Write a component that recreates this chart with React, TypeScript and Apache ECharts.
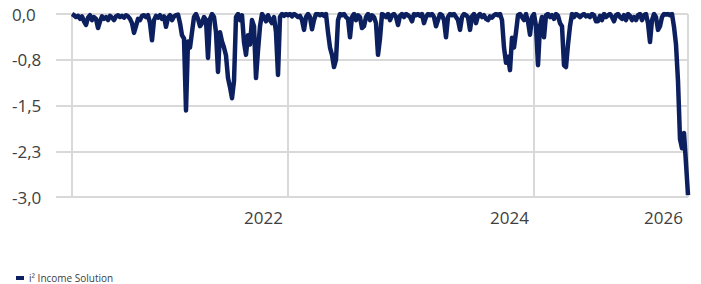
import React, { useEffect, useRef } from "react";
import * as echarts from "echarts";

// Drawdown series (one value per step, left to right)
const drawdown: number[] = [
  0, -0.02, -0.05, -0.03, -0.08, -0.04, -0.12, -0.18, -0.06, -0.02,
  -0.1, -0.05, -0.08, -0.23, -0.12, -0.04, -0.08, -0.05, -0.1, -0.03,
  -0.06, -0.1, -0.04, -0.02, -0.05, -0.03, -0.06, -0.02, -0.04, -0.08,
  -0.15, -0.31, -0.2, -0.08, -0.1, -0.03, -0.02, -0.05, -0.02, -0.15,
  -0.43, -0.1, -0.03, -0.06, -0.02, -0.08, -0.04, -0.21, -0.06, -0.02,
  -0.1, -0.04, -0.02, -0.01, -0.15, -0.35, -0.4, -1.58, -0.45, -0.55,
  -0.3, -0.05, 0, -0.08, -0.2, -0.15, -0.05, -0.1, -0.72, -0.08,
  0, -0.05, -0.3, -0.95, -0.3, -0.45, -0.55, -0.68, -1.05, -1.2,
  -1.38, -1.1, -0.05, 0, -0.1, -0.02, -0.46, -0.67, -0.35, -0.5,
  -0.1, -0.2, -1.05, -0.6, -0.2, 0, -0.05, -0.12, -0.02, -0.1,
  -0.15, -0.05, -0.3, -1.0, -0.05, 0, -0.03, 0, -0.02, 0,
  -0.04, 0, -0.02, -0.05, -0.03, -0.1, -0.26, -0.05, 0, -0.05,
  -0.25, -0.1, 0, 0, -0.02, 0, -0.03, 0, -0.3, -0.55,
  -0.67, -0.87, -0.75, -0.1, 0, -0.02, 0, -0.05, -0.08, -0.38,
  -0.05, 0, -0.1, -0.02, -0.05, -0.23, -0.2, -0.05, 0, -0.1,
  -0.02, -0.05, -0.15, -0.67, -0.4, 0, -0.02, -0.05, 0, -0.1,
  -0.02, 0, -0.05, -0.18, -0.03, 0, -0.05, 0, -0.02, -0.05,
  -0.12, 0, -0.02, 0, -0.03, 0, -0.15, -0.05, 0, -0.02,
  0, -0.05, -0.2, -0.1, 0, -0.02, -0.1, -0.38, -0.05, 0,
  -0.02, 0, -0.05, -0.1, -0.26, -0.05, 0, -0.02, -0.05, -0.26,
  -0.04, 0, -0.15, -0.03, 0, -0.05, -0.02, -0.08, -0.1, -0.04,
  -0.06, -0.02, 0, -0.02, 0, -0.1, -0.55, -0.8, -0.7, -0.92,
  -0.39, -0.55, -0.3, -0.02, 0, -0.05, -0.1, 0, -0.12, -0.34,
  -0.05, 0, -0.2, -0.84, -0.2, -0.05, -0.38, -0.02, 0, -0.05,
  -0.02, -0.08, 0, -0.03, -0.15, -0.2, -0.84, -0.87, -0.5, -0.2,
  0, -0.05, 0, -0.02, -0.05, -0.02, 0, -0.04, -0.02, -0.05,
  0, -0.02, -0.12, -0.12, -0.03, -0.1, 0, -0.05, -0.02, 0,
  -0.05, -0.12, -0.02, 0, -0.05, -0.08, -0.02, -0.1, 0, -0.03,
  -0.1, -0.05, -0.1, -0.02, 0, -0.1, -0.02, 0, -0.15, -0.46,
  -0.1, 0, -0.05, -0.26, -0.2, -0.05, 0, -0.01, 0, -0.02,
  0, -0.21, -0.5, -1.1, -2.05, -2.2, -1.95, -2.45, -2.97,
];

// Axis tick labels and the step (data index) at which each sits
const xTickLabels: string[] = ["", "2022", "2024", "2026"];
const xTickSteps: number[] = [0, 108, 231, 308];

const seriesName = "i² Income Solution";
const leadingSteps = 8; // empty room before the first point

const yMin = -3;
const yMax = 0;
const yInterval = 0.75;

export default function App() {
  const ref = useRef<HTMLDivElement>(null);

  useEffect(() => {
    if (!ref.current) return;
    document.body.style.margin = "0";
    const chart = echarts.init(ref.current, null, { renderer: "svg" });

    const total = leadingSteps + drawdown.length;
    const categories: string[] = [];
    for (let i = 0; i < total; i++) categories.push("c" + i);
    const tickSet = new Set<number>();
    const labelMap = new Map<number, string>();
    xTickSteps.forEach((s, i) => {
      tickSet.add(leadingSteps + s);
      if (xTickLabels[i]) labelMap.set(leadingSteps + s, xTickLabels[i]);
    });
    const values: (number | null)[] = [
      ...new Array(leadingSteps).fill(null),
      ...drawdown,
    ];

    const gridColor = "#d9d9d9";
    const textColor = "#404040";
    const font = "'Open Sans', 'Noto Sans', sans-serif";

    chart.setOption({
      animation: false,
      grid: { left: 56, right: 13, top: 14, bottom: 87, containLabel: false },
      legend: {
        show: true,
        left: 11,
        top: 268,
        itemWidth: 8,
        itemHeight: 4,
        itemGap: 10,
        icon: "rect",
        textStyle: { color: textColor, fontSize: 10, fontFamily: font },
        data: [{ name: seriesName, icon: "rect" }],
      },
      xAxis: {
        type: "category",
        boundaryGap: false,
        data: categories,
        axisLine: { show: false },
        axisTick: {
          show: true,
          length: 14,
          interval: (i: number) => tickSet.has(i),
          lineStyle: { color: gridColor, width: 2 },
        },
        splitLine: {
          show: true,
          showMinLine: true,
          showMaxLine: true,
          interval: (i: number) => tickSet.has(i),
          lineStyle: { color: gridColor, width: 2 },
        },
        axisLabel: {
          show: true,
          interval: (i: number) => labelMap.has(i),
          formatter: (_v: string, i: number) => labelMap.get(i) ?? "",
          align: "right",
          margin: 12,
          padding: [0, 5, 0, 0],
          color: textColor,
          fontSize: 17,
          fontFamily: font,
        },
      },
      yAxis: {
        type: "value",
        min: yMin,
        max: yMax,
        interval: yInterval,
        axisLine: { show: false },
        axisTick: { show: false },
        splitLine: { show: true, lineStyle: { color: gridColor, width: 2 } },
        axisLabel: {
          align: "left",
          margin: 44,
          color: textColor,
          fontSize: 17,
          fontFamily: font,
          formatter: (v: number) => v.toFixed(1).replace(".", ","),
        },
      },
      series: [
        {
          name: seriesName,
          type: "line",
          data: values,
          showSymbol: false,
          symbol: "none",
          connectNulls: false,
          itemStyle: { color: "#0c1f5e" },
          lineStyle: { color: "#0c1f5e", width: 4.5, join: "round" },
        },
      ],
    });

    return () => chart.dispose();
  }, []);

  return <div ref={ref} style={{ width: 701, height: 284 }} />;
}
